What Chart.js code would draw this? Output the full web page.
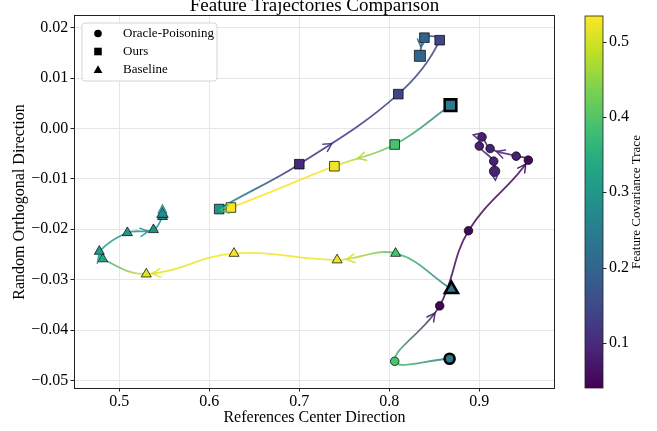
<!DOCTYPE html>
<html>
<head>
<meta charset="utf-8">
<script src="https://cdn.jsdelivr.net/npm/chart.js@4.4.0/dist/chart.umd.min.js"></script>
<style>
html, body { margin: 0; padding: 0; background: #fff; }
</style>
</head>
<body>
<canvas id="myChart" width="657" height="431"></canvas>
<script>
// values: x, y and feature covariance trace per step
const oracleX = [0.867, 0.806, 0.856, 0.888, 0.9545, 0.941, 0.912, 0.903, 0.900, 0.916, 0.917];
const oracleY = [-0.0457, -0.0462, -0.0352, -0.0203, -0.0063, -0.0055, -0.0040, -0.0017, -0.0035, -0.0065, -0.0085];
const oracleV = [0.24, 0.39, 0.045, 0.05, 0.05, 0.085, 0.085, 0.085, 0.085, 0.085, 0.09];

const oursX = [0.868, 0.806, 0.739, 0.624, 0.611, 0.700, 0.810, 0.856, 0.839, 0.834];
const oursY = [0.0046, -0.0032, -0.0075, -0.0157, -0.0160, -0.0071, 0.0068, 0.0175, 0.0180, 0.0144];
const oursV = [0.24, 0.39, 0.525, 0.53, 0.29, 0.10, 0.14, 0.14, 0.20, 0.20];

const baseX = [0.869, 0.807, 0.742, 0.6275, 0.530, 0.4816, 0.4778, 0.509, 0.538, 0.548, 0.548];
const baseY = [-0.0319, -0.0248, -0.0261, -0.0248, -0.0289, -0.0259, -0.0244, -0.0207, -0.0201, -0.0175, -0.0170];
const baseV = [0.24, 0.39, 0.52, 0.53, 0.51, 0.335, 0.31, 0.30, 0.29, 0.28, 0.28];

const labels = ['Oracle-Poisoning', 'Ours', 'Baseline'];
const xTicks = [0.5, 0.6, 0.7, 0.8, 0.9];
const yTicks = [-0.05, -0.04, -0.03, -0.02, -0.01, 0.00, 0.01, 0.02];
const cbTicks = [0.1, 0.2, 0.3, 0.4, 0.5];

// where the direction arrows sit: [segment, t along it, px past the end]
const oracleArrows = [[1, 0.9, 0], [3, 0.95, 0], [5, 0.75, 0], [6, 1, 9], [9, 1, 9]];
const oursArrows = [[1, 0.63, 0], [3, 0.6, 0], [5, 0.3, 0], [8, 0.6, 0]];
const baseArrows = [[1, 0.86, 0], [3, 0.94, 0], [5, 0.6, 0], [7, 0.8, 0], [9, 1, 9]];

const FONT = 'Liberation Serif';
const CMIN = 0.04, CMAX = 0.534;
const VIRIDIS = ['#440154', '#482475', '#414487', '#355f8d', '#2a788e', '#21918c',
    '#22a884', '#44bf70', '#7ad151', '#bddf26', '#fde725'];

function hex(h) {
    return [parseInt(h.slice(1, 3), 16), parseInt(h.slice(3, 5), 16), parseInt(h.slice(5, 7), 16)];
}

function viridis(v, a) {
    let t = (v - CMIN) / (CMAX - CMIN);
    t = Math.max(0, Math.min(1, t)) * 10;
    const i = Math.min(9, Math.floor(t));
    const f = t - i;
    const c0 = hex(VIRIDIS[i]), c1 = hex(VIRIDIS[i + 1]);
    const c = c0.map((c, k) => Math.round(c + (c1[k] - c) * f));
    return 'rgba(' + c[0] + ',' + c[1] + ',' + c[2] + ',' + (a === undefined ? 1 : a) + ')';
}

function points(xs, ys, vs) {
    return xs.map((x, i) => ({ x: x, y: ys[i], v: vs[i] }));
}

function segColor(c) {
    const d = c.chart.data.datasets[c.datasetIndex].data;
    const g = c.chart.ctx.createLinearGradient(c.p0.x, c.p0.y, c.p1.x, c.p1.y);
    g.addColorStop(0, viridis(d[c.p0DataIndex].v, 0.85));
    g.addColorStop(1, viridis(d[c.p1DataIndex].v, 0.85));
    return g;
}

function lineSet(xs, ys, vs, arrows) {
    return {
        data: points(xs, ys, vs),
        showLine: true,
        tension: 0.4,
        borderWidth: 1.8,
        pointRadius: 0,
        order: 2,
        arrows: arrows,
        segment: {
            borderColor: segColor,
            borderDashOffset: c => c.p0DataIndex * 0.01
        }
    };
}

function markSet(label, xs, ys, vs, style, sizes) {
    const last = xs.length - 1;
    return {
        label: label,
        data: points(xs, ys, vs),
        showLine: false,
        pointStyle: style,
        order: 1,
        pointBackgroundColor: c => viridis(c.raw.v),
        pointBorderColor: c => c.dataIndex === 0 ? '#000' : 'rgba(0,0,0,0.8)',
        pointBorderWidth: c => c.dataIndex === 0 ? 2.6 : 0.9,
        pointRadius: c => c.dataIndex === 0 ? sizes[0] : (c.dataIndex === last ? sizes[2] : sizes[1])
    };
}

function bez(p0, p1, t) {
    const c1x = p0.cp2x === undefined ? p0.x : p0.cp2x;
    const c1y = p0.cp2y === undefined ? p0.y : p0.cp2y;
    const c2x = p1.cp1x === undefined ? p1.x : p1.cp1x;
    const c2y = p1.cp1y === undefined ? p1.y : p1.cp1y;
    const m = 1 - t;
    const x = m * m * m * p0.x + 3 * m * m * t * c1x + 3 * m * t * t * c2x + t * t * t * p1.x;
    const y = m * m * m * p0.y + 3 * m * m * t * c1y + 3 * m * t * t * c2y + t * t * t * p1.y;
    let dx = 3 * m * m * (c1x - p0.x) + 6 * m * t * (c2x - c1x) + 3 * t * t * (p1.x - c2x);
    let dy = 3 * m * m * (c1y - p0.y) + 6 * m * t * (c2y - c1y) + 3 * t * t * (p1.y - c2y);
    if (Math.hypot(dx, dy) < 1e-6) { dx = p1.x - p0.x; dy = p1.y - p0.y; }
    return { x: x, y: y, dx: dx, dy: dy };
}

function drawArrow(ctx, x, y, dx, dy, color) {
    const len = Math.hypot(dx, dy) || 1;
    const ux = dx / len, uy = dy / len;
    const L = 8, W = 4.2;
    ctx.save();
    ctx.strokeStyle = color;
    ctx.lineWidth = 1.5;
    ctx.lineCap = 'round';
    ctx.beginPath();
    ctx.moveTo(x - ux * L - uy * W, y - uy * L + ux * W);
    ctx.lineTo(x, y);
    ctx.lineTo(x - ux * L + uy * W, y - uy * L - ux * W);
    ctx.stroke();
    ctx.restore();
}

const extras = {
    id: 'extras',
    afterDatasetsDraw(chart) {
        const ctx = chart.ctx;
        chart.data.datasets.forEach((ds, di) => {
            if (!ds.arrows) return;
            const pts = chart.getDatasetMeta(di).data;
            ds.arrows.forEach(a => {
                const p0 = pts[a[0]], p1 = pts[a[0] + 1];
                const b = bez(p0, p1, a[1]);
                const n = Math.hypot(b.dx, b.dy) || 1;
                const x = b.x + b.dx / n * a[2], y = b.y + b.dy / n * a[2];
                const v = ds.data[a[0]].v + (ds.data[a[0] + 1].v - ds.data[a[0]].v) * a[1];
                drawArrow(ctx, x, y, b.dx, b.dy, viridis(v, 0.9));
            });
        });
    },
    afterDraw(chart) {
        const ctx = chart.ctx;
        const ca = chart.chartArea;
        ctx.save();
        // axes frame
        ctx.strokeStyle = '#222';
        ctx.lineWidth = 1;
        ctx.strokeRect(Math.round(ca.left) + 0.5, Math.round(ca.top) - 0.5,
            Math.round(ca.right) - Math.round(ca.left) - 1, Math.round(ca.bottom) - Math.round(ca.top) + 1);

        // colorbar on the cb scale
        const cb = chart.scales.cb;
        const bx = cb.left + 30, bw = 18;
        const top = cb.getPixelForValue(CMAX), bot = cb.getPixelForValue(CMIN);
        const g = ctx.createLinearGradient(0, bot, 0, top);
        VIRIDIS.forEach((c, i) => g.addColorStop(i / 10, c));
        ctx.fillStyle = g;
        ctx.fillRect(bx, top, bw, bot - top);
        ctx.strokeStyle = '#222';
        ctx.lineWidth = 0.8;
        ctx.strokeRect(bx, top, bw, bot - top);
        ctx.lineWidth = 1;
        cbTicks.forEach(t => {
            const py = Math.round(cb.getPixelForValue(t)) + 0.5;
            ctx.beginPath();
            ctx.moveTo(bx + bw, py);
            ctx.lineTo(bx + bw + 3.5, py);
            ctx.stroke();
        });
        ctx.save();
        ctx.translate(cb.left + 82, (top + bot) / 2);
        ctx.rotate(-Math.PI / 2);
        ctx.fillStyle = '#000';
        ctx.font = '13px "' + FONT + '"';
        ctx.textAlign = 'center';
        ctx.textBaseline = 'middle';
        ctx.fillText('Feature Covariance Trace', 0, 0);
        ctx.restore();

        // legend
        const lx = ca.left + 8, ly = ca.top + 7, lw = 135, lh = 58;
        ctx.beginPath();
        ctx.roundRect(lx, ly, lw, lh, 3);
        ctx.fillStyle = 'rgba(255,255,255,0.9)';
        ctx.fill();
        ctx.strokeStyle = '#d4d4d4';
        ctx.lineWidth = 1;
        ctx.stroke();
        ctx.fillStyle = '#000';
        ctx.font = '13px "' + FONT + '"';
        ctx.textBaseline = 'middle';
        ctx.textAlign = 'left';
        labels.forEach((lab, i) => {
            const mx = lx + 16, my = ly + 10.5 + i * 18;
            ctx.beginPath();
            if (i === 0) {
                ctx.arc(mx, my, 3.8, 0, Math.PI * 2);
            } else if (i === 1) {
                ctx.rect(mx - 3.8, my - 3.8, 7.6, 7.6);
            } else {
                ctx.moveTo(mx, my - 4.2);
                ctx.lineTo(mx + 4.4, my + 3.6);
                ctx.lineTo(mx - 4.4, my + 3.6);
                ctx.closePath();
            }
            ctx.fill();
            ctx.fillText(lab, lx + 41, my);
        });
        ctx.restore();
    }
};

const tickFont = { family: FONT, size: 16 };
const ctx = document.getElementById('myChart').getContext('2d');
const myChart = new Chart(ctx, {
    type: 'scatter',
    data: {
        datasets: [
            lineSet(oracleX, oracleY, oracleV, oracleArrows),
            lineSet(oursX, oursY, oursV, oursArrows),
            lineSet(baseX, baseY, baseV, baseArrows),
            markSet(labels[0], oracleX, oracleY, oracleV, 'circle', [5, 4.3, 5.2]),
            markSet(labels[1], oursX, oursY, oursV, 'rect', [8.2, 6.8, 7.8]),
            markSet(labels[2], baseX, baseY, baseV, 'triangle', [7.5, 5.8, 6.6])
        ]
    },
    options: {
        responsive: false,
        animation: false,
        layout: { padding: 0 },
        plugins: {
            legend: { display: false },
            tooltip: { enabled: false },
            title: {
                display: true,
                fullSize: false,
                text: 'Feature Trajectories Comparison',
                color: '#000',
                font: { family: FONT, size: 19, weight: 'normal' },
                padding: { top: -5.1, bottom: -1.7 }
            }
        },
        scales: {
            x: {
                type: 'linear',
                min: 0.4497,
                max: 0.9841,
                afterFit: s => { s.height = 43; },
                afterBuildTicks: s => { s.ticks = xTicks.map(v => ({ value: v })); },
                ticks: { font: tickFont, color: '#000', padding: 1, callback: v => v.toFixed(1) },
                grid: { color: '#e6e6e6', tickColor: '#222', tickLength: 3.5 },
                border: { display: false },
                title: {
                    display: true, text: 'References Center Direction', color: '#000',
                    font: { family: FONT, size: 16 }, padding: { top: 0, bottom: 3.4 }
                }
            },
            y: {
                type: 'linear',
                min: -0.0515,
                max: 0.0223,
                afterFit: s => { s.width = 74; },
                afterBuildTicks: s => { s.ticks = yTicks.map(v => ({ value: v })); },
                ticks: {
                    font: tickFont, color: '#000', padding: 2.2,
                    callback: v => (v < -1e-9 ? '\u2212' : '') + Math.abs(v).toFixed(2)
                },
                grid: { color: '#e6e6e6', tickColor: '#222', tickLength: 3.5 },
                border: { display: false },
                title: {
                    display: true, text: 'Random Orthogonal Direction', color: '#000',
                    font: { family: FONT, size: 16 }, padding: { top: 10.4, bottom: 0 }
                }
            },
            cb: {
                type: 'linear',
                position: 'right',
                min: CMIN,
                max: CMAX,
                afterFit: s => { s.width = 102; },
                afterBuildTicks: s => { s.ticks = cbTicks.map(v => ({ value: v })); },
                ticks: { font: tickFont, color: '#000', padding: 0, callback: v => v.toFixed(1) },
                grid: { display: false, drawTicks: true, tickLength: 54 },
                border: { display: false }
            }
        }
    },
    plugins: [extras]
});
</script>
</body>
</html>
